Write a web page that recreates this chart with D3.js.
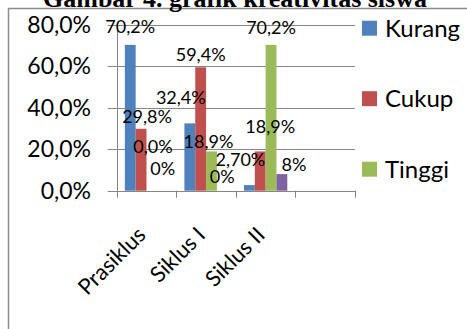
<!DOCTYPE html>
<html>
<head>
<meta charset="utf-8">
<script src="https://cdn.jsdelivr.net/npm/d3@7"></script>
<style>
  body { margin: 0; background: #fff; }
  svg { display: block; font-family: Lato, "Open Sans", sans-serif; }
</style>
</head>
<body>
<div id="chart"></div>
<script>
// data
const categories = ["Prasiklus", "Siklus I", "Siklus II", ""];
const seriesNames = ["Kurang", "Cukup", "Tinggi", ""];
const kurang = [70.2, 32.4, 2.7, null];
const cukup = [29.8, 59.4, 18.9, null];
const tinggi = [0, 18.9, 70.2, null];
const lainnya = [0, 0, 8, null];
// data label texts as printed on the chart
const labelKurang = ["70,2%", "32,4%", "2,70%"];
const labelCukup = ["29,8%", "59,4%", "18,9%"];
const labelTinggi = ["0,0%", "18,9%", "70,2%"];
const labelLainnya = ["0%", "0%", "8%"];
const yTicks = [0, 20, 40, 60, 80];

const colors = ["#4F81BD", "#C0504D", "#9BBB59", "#8064A2"];
// hand-moved labels: where each label centre sits (in % units) and its sideways nudge (px)
const labelLevel = [[78.9, 44.9, 14.8], [35.6, 65.7, 30.8], [21.5, 23.6, 78.6], [10.9, 6.7, 12.8]];
const labelNudge = [[0, -9, -9], [6, 0, 10], [1, -3, 0], [0, 0, 12]];

const width = 467, height = 329;
const plot = { left: 116.7, right: 355, top: 24.5, bottom: 190.7 };

const svg = d3.select("#chart").append("svg")
    .attr("width", width)
    .attr("height", height);

// chart frame (runs off the right and bottom of the picture)
svg.append("path")
    .attr("d", `M8.5,${height}V8.5H${width}`)
    .attr("fill", "none")
    .attr("stroke", "#8c8c8c")
    .attr("stroke-width", 1.5);

// title, mostly cut off at the top
svg.append("text")
    .attr("x", 235)
    .attr("y", 7)
    .attr("text-anchor", "middle")
    .style("font-family", "'Liberation Serif', 'Times New Roman', serif")
    .style("font-weight", "bold")
    .style("font-size", "26px")
    .text("Gambar 4. grafik kreativitas siswa");

const x = d3.scaleBand()
    .domain(categories.map((c, i) => i))
    .range([plot.left, plot.right])
    .paddingInner(0).paddingOuter(0);

const xs = d3.scaleBand()
    .domain(d3.range(4))
    .range([0, x.bandwidth()])
    .paddingInner(0).paddingOuter(0.75);

const y = d3.scaleLinear().domain([0, 80]).range([plot.bottom, plot.top]);

// gridlines + left ticks
svg.append("g").selectAll("line")
    .data(yTicks)
    .enter().append("line")
    .attr("x1", plot.left - 9)
    .attr("x2", plot.right)
    .attr("y1", d => Math.round(y(d)) + 0.5)
    .attr("y2", d => Math.round(y(d)) + 0.5)
    .attr("stroke", "#868686");

svg.append("g").selectAll("text")
    .data(yTicks)
    .enter().append("text")
    .attr("x", 91)
    .attr("y", d => y(d))
    .attr("dy", "0.36em")
    .attr("text-anchor", "end")
    .style("font-size", "23px")
    .text(d => d.toFixed(1).replace(".", ",") + "%");

// y axis line
svg.append("line")
    .attr("x1", Math.round(plot.left) + 0.5).attr("x2", Math.round(plot.left) + 0.5)
    .attr("y1", plot.top).attr("y2", plot.bottom)
    .attr("stroke", "#868686");

// x axis ticks on category boundaries
const bounds = categories.map((c, i) => x(i)).concat([plot.right]);
svg.append("g").selectAll("line")
    .data(bounds)
    .enter().append("line")
    .attr("x1", d => Math.round(d) + 0.5)
    .attr("x2", d => Math.round(d) + 0.5)
    .attr("y1", plot.bottom)
    .attr("y2", plot.bottom + 7)
    .attr("stroke", "#868686");

// bars
const allSeries = [kurang, cukup, tinggi, lainnya];
allSeries.forEach((vals, s) => {
    svg.append("g").selectAll("rect")
        .data(vals.map((v, i) => ({ v, i })).filter(d => d.v !== null))
        .enter().append("rect")
        .attr("x", d => x(d.i) + xs(s))
        .attr("y", d => y(d.v))
        .attr("width", xs.bandwidth())
        .attr("height", d => plot.bottom - y(d.v))
        .attr("fill", colors[s]);
});

// data labels
const allLabels = [labelKurang, labelCukup, labelTinggi, labelLainnya];
allLabels.forEach((labs, s) => {
    svg.append("g").selectAll("text")
        .data(labs)
        .enter().append("text")
        .attr("x", (d, i) => x(i) + xs(s) + xs.bandwidth() / 2 + labelNudge[s][i])
        .attr("y", (d, i) => y(labelLevel[s][i]))
        .attr("dy", "0.36em")
        .attr("text-anchor", "middle")
        .style("font-size", "18px")
        .text(d => d);
});

// category labels, rotated
svg.append("g").selectAll("text")
    .data(categories.slice(0, 3))
    .enter().append("text")
    .attr("transform", (d, i) => `translate(${x(i) + x.bandwidth() / 2 - 5},${plot.bottom + 40}) rotate(-45)`)
    .attr("text-anchor", "end")
    .attr("dy", "0.36em")
    .style("font-size", "22px")
    .text(d => d);

// bottom axis line, drawn over the bars
svg.append("line")
    .attr("x1", plot.left).attr("x2", plot.right)
    .attr("y1", Math.round(plot.bottom) + 0.5).attr("y2", Math.round(plot.bottom) + 0.5)
    .attr("stroke", "#868686");

// legend (only the three named series)
const legend = svg.append("g").selectAll("g")
    .data(seriesNames.slice(0, 3))
    .enter().append("g")
    .attr("transform", (d, i) => `translate(362,${28.2 + i * 70.5})`);

legend.append("rect")
    .attr("x", 0).attr("y", -7.5)
    .attr("width", 15).attr("height", 15)
    .attr("fill", (d, i) => colors[i]);

legend.append("text")
    .attr("x", 23)
    .attr("dy", "0.36em")
    .style("font-size", "24px")
    .text(d => d);
</script>
</body>
</html>
